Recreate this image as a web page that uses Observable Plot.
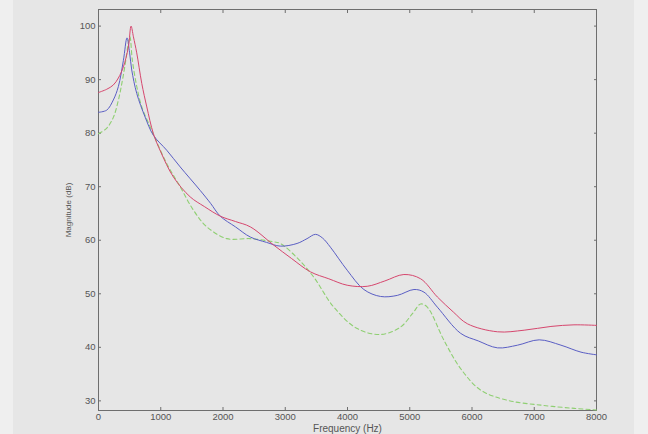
<!DOCTYPE html>
<html>
<head>
<meta charset="utf-8">
<script src="https://cdn.jsdelivr.net/npm/d3@7"></script>
<script src="https://cdn.jsdelivr.net/npm/@observablehq/plot@0.6"></script>
<style>
  html, body { margin: 0; padding: 0; background: #efefef; }
  #chart svg { display: block; }
</style>
</head>
<body>
<div id="chart"></div>
<script>
const xTicks = [0, 1000, 2000, 3000, 4000, 5000, 6000, 7000, 8000];
const yTicks = [30, 40, 50, 60, 70, 80, 90, 100];
const xLabel = "Frequency (Hz)";
const yLabel = "Magnitude (dB)";

const redHz = [0, 132, 238, 319, 400, 480, 523, 561, 614, 695, 776, 882, 1000, 1204, 1473, 1700, 1956, 2200, 2439, 2814, 3100, 3404, 3700, 3995, 4317, 4600, 4906, 5175, 5444, 5700, 5926, 6410, 6838, 7268, 7638, 8000];
const redDb = [87.6, 88.2, 89.0, 90.3, 92.4, 96.1, 100, 98.0, 95.0, 89.3, 84.9, 79.9, 76.5, 71.8, 68.1, 66.3, 64.5, 63.5, 62.5, 59.1, 56.6, 54.1, 52.8, 51.6, 51.4, 52.4, 53.6, 52.8, 49.4, 46.6, 44.4, 42.9, 43.2, 43.9, 44.2, 44.1];

const blueHz = [0, 132, 238, 319, 400, 458, 500, 534, 615, 749, 882, 1097, 1312, 1634, 1800, 1956, 2200, 2439, 2700, 2921, 3190, 3350, 3485, 3600, 3726, 3995, 4263, 4531, 4800, 5068, 5229, 5444, 5819, 6100, 6410, 6731, 7080, 7429, 7751, 8000];
const blueDb = [83.9, 84.3, 86.2, 88.7, 93.6, 97.8, 95.0, 91.8, 87.4, 83.0, 79.6, 76.8, 73.7, 69.3, 66.9, 64.5, 62.5, 60.6, 59.6, 58.9, 59.4, 60.3, 61.1, 60.4, 58.7, 54.4, 50.8, 49.5, 49.7, 50.8, 50.3, 47.5, 42.6, 41.2, 39.9, 40.4, 41.4, 40.4, 39.1, 38.6];

const greenHz = [0, 130, 240, 320, 375, 430, 475, 505, 544, 615, 695, 829, 900, 1097, 1312, 1526, 1741, 2063, 2439, 2814, 2921, 3200, 3458, 3780, 4156, 4531, 4853, 5050, 5175, 5282, 5550, 5819, 6141, 6571, 7107, 7643, 8000];
const greenDb = [79.9, 80.9, 83.0, 86.2, 89.3, 93.0, 96.5, 98.0, 93.6, 88.7, 84.9, 81.2, 79.3, 74.3, 70.0, 65.6, 62.5, 60.3, 60.3, 59.7, 59.4, 56.6, 53.1, 47.5, 43.5, 42.4, 43.8, 46.4, 48.1, 47.5, 41.3, 36.0, 32.0, 30.1, 29.2, 28.6, 28.3];

const toRows = (hz, db) => hz.map((h, i) => ({hz: h, db: db[i]}));
const red = toRows(redHz, redDb);
const blue = toRows(blueHz, blueDb);
const green = toRows(greenHz, greenDb);

const axisColor = "#6e6e6e";
const font = "'Liberation Sans', Arial, Helvetica, sans-serif";
const fmt = d3.format("d");

const chart = Plot.plot({
  width: 648,
  height: 434,
  marginLeft: 98,
  marginRight: 52,
  marginTop: 9,
  marginBottom: 24,
  style: {
    background: "linear-gradient(to right, #efefef 13px, #e6e6e6 13px, #e6e6e6 634px, #efefef 634px)",
    fontFamily: font,
    fontSize: "9.5px",
    color: "#555"
  },
  x: {domain: [0, 8000]},
  y: {domain: [28.2, 103.1]},
  marks: [
    Plot.frame({stroke: axisColor}),
    Plot.axisX({ticks: xTicks, tickSize: -3, tickPadding: 6, tickFormat: fmt, label: null, stroke: axisColor}),
    Plot.axisX({anchor: "top", ticks: xTicks, tickSize: -3, tickFormat: () => "", label: null, stroke: axisColor}),
    Plot.axisY({ticks: yTicks, tickSize: -3, tickPadding: 6, tickFormat: fmt, label: null, stroke: axisColor}),
    Plot.axisY({anchor: "right", ticks: yTicks, tickSize: -3, tickFormat: () => "", label: null, stroke: axisColor}),
    Plot.line(green, {x: "hz", y: "db", stroke: "#8fcf72", strokeWidth: 1.1, strokeDasharray: "4,3", curve: "catmull-rom"}),
    Plot.line(blue, {x: "hz", y: "db", stroke: "#5a5ec4", strokeWidth: 1, curve: "catmull-rom"}),
    Plot.line(red, {x: "hz", y: "db", stroke: "#d6476e", strokeWidth: 1, curve: "catmull-rom"}),
    Plot.text([xLabel], {frameAnchor: "bottom", dy: 18, text: d => d, fontSize: 10, fill: "#555", textAnchor: "middle", lineAnchor: "middle"}),
    Plot.text([yLabel], {frameAnchor: "left", dx: -30, text: d => d, fontSize: 8, fill: "#555", rotate: -90, textAnchor: "middle", lineAnchor: "middle"})
  ]
});
document.getElementById("chart").appendChild(chart);
</script>
</body>
</html>
